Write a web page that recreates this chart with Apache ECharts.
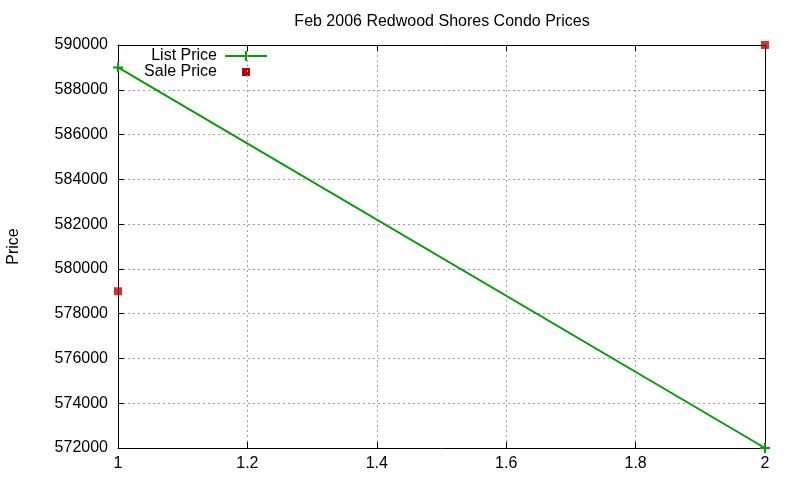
<!DOCTYPE html>
<html>
<head>
<meta charset="utf-8">
<script src="https://cdn.jsdelivr.net/npm/echarts@6/dist/echarts.min.js"></script>
<style>
  html, body { margin: 0; padding: 0; background: #fff; }
  #chart { width: 800px; height: 480px; }
</style>
</head>
<body>
<div id="chart"></div>
<script>
// values
const listX = [1, 2];
const listPrice = [589000, 572000];
const saleX = [1, 2];
const salePrice = [579000, 590000];

const green = '#00a000';
const red = '#c00000';
const plusPath = 'path://M4,0h2v4h4v2h-4v4h-2v-4h-4v-2h4z';
const font = 'Liberation Sans, Arial, sans-serif';

function drawChart(divId) {
    const myChart = echarts.init(document.getElementById(divId));
    const gridLine = {show: true, lineStyle: {color: '#a0a0a0', type: [2, 3], width: 1}};
    const option = {
        animation: false,
        title: {
            text: 'Feb 2006 Redwood Shores Condo Prices',
            left: 437,
            top: 9,
            textAlign: 'center',
            textStyle: {fontFamily: font, fontSize: 16, fontWeight: 'normal', color: '#000'}
        },
        grid: {left: 118, right: 35, top: 45, bottom: 32, outerBoundsMode: 'none', containLabel: false},
        xAxis: [
            {
                type: 'value', min: 1, max: 2, interval: 0.2,
                axisLine: {show: true, onZero: false, lineStyle: {color: '#000', width: 1}},
                axisTick: {show: true, inside: true, length: 6, lineStyle: {color: '#000'}},
                axisLabel: {
                    fontFamily: font, fontSize: 16, color: '#000', margin: 8,
                    formatter: function (v) { return String(Math.round(v * 10) / 10); }
                },
                splitLine: gridLine
            },
            {
                type: 'value', min: 1, max: 2, interval: 0.2, position: 'top',
                axisLine: {show: true, onZero: false, lineStyle: {color: '#000', width: 1}},
                axisTick: {show: true, inside: true, length: 6, lineStyle: {color: '#000'}},
                axisLabel: {show: false},
                splitLine: {show: false}
            }
        ],
        yAxis: [
            {
                type: 'value', min: 572000, max: 590000, interval: 2000,
                name: 'Price', nameLocation: 'middle', nameGap: 96,
                nameTextStyle: {fontFamily: font, fontSize: 16, color: '#000'},
                axisLine: {show: true, onZero: false, lineStyle: {color: '#000', width: 1}},
                axisTick: {show: true, inside: true, length: 6, lineStyle: {color: '#000'}},
                axisLabel: {
                    fontFamily: font, fontSize: 16, color: '#000', margin: 10,
                    formatter: function (v) { return String(v); }
                },
                splitLine: gridLine
            },
            {
                type: 'value', min: 572000, max: 590000, interval: 2000, position: 'right',
                axisLine: {show: true, onZero: false, lineStyle: {color: '#000', width: 1}},
                axisTick: {show: true, inside: true, length: 6, lineStyle: {color: '#000'}},
                axisLabel: {show: false},
                splitLine: {show: false}
            }
        ],
        graphic: [
            {type: 'text', x: 217, y: 56,
             style: {text: 'List Price', fontFamily: font, fontSize: 16, fill: '#000', textAlign: 'right', textVerticalAlign: 'middle'}},
            {type: 'line', shape: {x1: 225, y1: 56, x2: 267, y2: 56}, style: {stroke: green, lineWidth: 2}},
            {type: 'line', shape: {x1: 246, y1: 51, x2: 246, y2: 61}, style: {stroke: green, lineWidth: 2}},
            {type: 'text', x: 217, y: 72,
             style: {text: 'Sale Price', fontFamily: font, fontSize: 16, fill: '#000', textAlign: 'right', textVerticalAlign: 'middle'}},
            {type: 'rect', shape: {x: 242, y: 68, width: 8, height: 8}, style: {fill: red}}
        ],
        series: [
            {
                name: 'List Price',
                type: 'line',
                data: listX.map(function (x, i) { return [x, listPrice[i]]; }),
                symbol: plusPath,
                symbolSize: 10,
                showAllSymbol: true,
                lineStyle: {color: green, width: 2},
                itemStyle: {color: green},
                z: 3
            },
            {
                name: 'Sale Price',
                type: 'scatter',
                data: saleX.map(function (x, i) { return [x, salePrice[i]]; }),
                symbol: 'rect',
                symbolSize: 8,
                itemStyle: {color: red},
                z: 4
            }
        ]
    };
    myChart.setOption(option);
    return myChart;
}

drawChart('chart');
</script>
</body>
</html>
